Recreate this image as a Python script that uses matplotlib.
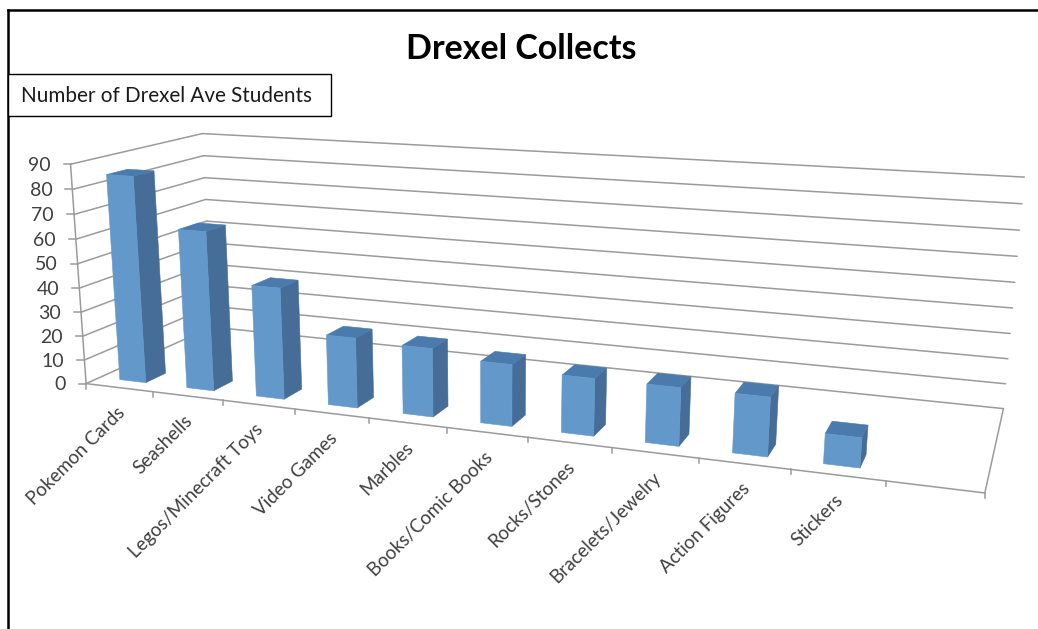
# -*- coding: utf-8 -*-
"""
Drexel Collects: Excel style 3D column chart, drawn with a fitted camera
"""
import numpy as np
import matplotlib
matplotlib.use("Agg")
import matplotlib.pyplot as plt

plt.rcParams["font.family"] = ["Lato", "DejaVu Sans"]

categories = ["Pokemon Cards", "Seashells", "Legos/Minecraft Toys", "Video Games",
              "Marbles", "Books/Comic Books", "Rocks/Stones", "Bracelets/Jewelry",
              "Action Figures", "Stickers", ""]
values = [85, 65, 45, 28, 27, 24, 22, 22, 22, 11, 0]
y_ticks = list(range(0, 100, 10))

TITLE = "Drexel Collects"
LEGEND = "Number of Drexel Ave Students"

GRID = "#9b9b9b"
FRONT = "#6398cb"
SIDE = "#466d98"
TOP = "#4a7bac"
TEXT = "#404040"

# bar extent inside a slot (u) and inside the floor depth (v)
BAR_U0, BAR_U1 = 0.30, 0.69
BAR_V0, BAR_V1 = 0.10, 0.25

n_slots = len(categories)
z_max = y_ticks[-1]

# known places in the picture, (u, v, z) -> pixel, used to fit the camera
calib = [
    ((0, 0, 0), (88, 382)),
    ((0, 0, 90), (69, 164)),
    ((0, 1, 0), (210, 329)),
    ((0, 1, 90), (204, 133)),
    ((11, 1, 90), (1024, 178)),
    ((11, 1, 0), (1004, 406)),
    ((11, 0, 0), (985, 493)),
    ((5, 0, 0), (447, 427)),
    ((9, 0, 0), (790, 472)),
]


def fit_camera(pairs):
    rows = []
    for (u, v, z), (px, py) in pairs:
        p = [u / n_slots, v, z / z_max, 1.0]
        rows.append(p + [0, 0, 0, 0] + [-px * c for c in p])
        rows.append([0, 0, 0, 0] + p + [-py * c for c in p])
    _, _, vt = np.linalg.svd(np.array(rows))
    return vt[-1].reshape(3, 4)


CAM = fit_camera(calib)


def proj(u, v, z):
    h = CAM @ np.array([u / n_slots, v, z / z_max, 1.0])
    return h[0] / h[2], h[1] / h[2]


def line3d(ax, a, b, lw=1.1, color=GRID, zorder=1):
    pa, pb = proj(*a), proj(*b)
    ax.plot([pa[0], pb[0]], [pa[1], pb[1]], color=color, lw=lw, zorder=zorder,
            solid_capstyle="round")


def poly3d(ax, pts, color, zorder):
    xy = [proj(*p) for p in pts]
    ax.fill([p[0] for p in xy], [p[1] for p in xy], facecolor=color,
            edgecolor=color, lw=0.4, zorder=zorder)


def draw_bar(ax, k, val):
    u0, u1 = k + BAR_U0, k + BAR_U1
    z = 3 + k
    poly3d(ax, [(u1, BAR_V0, 0), (u1, BAR_V1, 0), (u1, BAR_V1, val), (u1, BAR_V0, val)], SIDE, z)
    poly3d(ax, [(u0, BAR_V0, val), (u1, BAR_V0, val), (u1, BAR_V1, val), (u0, BAR_V1, val)], TOP, z)
    poly3d(ax, [(u0, BAR_V0, 0), (u1, BAR_V0, 0), (u1, BAR_V0, val), (u0, BAR_V0, val)], FRONT, z)


def main():
    fig = plt.figure(figsize=(10.38, 6.29), dpi=100)
    ax = fig.add_axes([0, 0, 1, 1])
    ax.set_xlim(0, 1038)
    ax.set_ylim(629, 0)
    ax.axis("off")

    # outer frame and legend box
    ax.plot([8, 8], [629, 10], color="black", lw=1.8, zorder=20)
    ax.plot([8, 1038], [10, 10], color="black", lw=1.8, zorder=20)
    ax.add_patch(plt.Rectangle((8, 74), 323, 42, facecolor="white", edgecolor="black",
                               lw=1.0, zorder=20))
    ax.text(21, 96, LEGEND, fontsize=14.85, color="#1a1a1a", ha="left", va="center", zorder=21)
    ax.text(521, 49, TITLE, fontsize=24.5, fontweight="bold", color="black",
            ha="center", va="center")

    # walls
    for t in y_ticks:
        line3d(ax, (0, 0, t), (0, 1, t))
        line3d(ax, (0, 1, t), (n_slots, 1, t))
        px, py = proj(0, 0, t)
        ax.plot([px - 7, px], [py, py], color=GRID, lw=1.1)
        ax.text(px - 20, py + 1, str(t), fontsize=14, color=TEXT,
                ha="right", va="center")

    # floor and axis
    line3d(ax, (0, 0, 0), (0, 0, z_max))
    line3d(ax, (0, 0, 0), (n_slots, 0, 0))
    line3d(ax, (n_slots, 0, 0), (n_slots, 1, 0))
    for k in range(n_slots + 1):
        px, py = proj(k, 0, 0)
        ax.plot([px, px], [py, py + 5], color=GRID, lw=1.1)

    for k, val in enumerate(values):
        if val > 0:
            draw_bar(ax, k, val)

    for k, name in enumerate(categories):
        if not name:
            continue
        px, py = proj(k + 0.5, 0, 0)
        ax.text(px - 3.5, py + 16, name, fontsize=13.5, color=TEXT, rotation=45,
                rotation_mode="anchor", ha="right", va="top")

    fig.savefig("out.png", dpi=100, facecolor="white")


if __name__ == "__main__":
    main()
